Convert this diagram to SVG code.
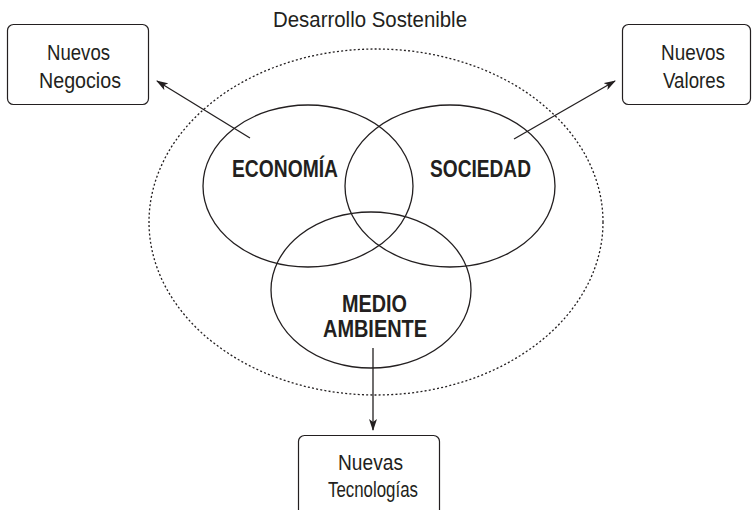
<svg xmlns="http://www.w3.org/2000/svg" width="754" height="510" viewBox="0 0 754 510">
<style>
.bg{fill:#ffffff}
.box{fill:#ffffff;stroke:#231f20;stroke-width:1.2}
.set{fill:none;stroke:#231f20;stroke-width:1.3}
.dot{fill:none;stroke:#231f20;stroke-width:1.3;stroke-dasharray:2 2.2}
.lbl{font-family:"Liberation Sans",Arial,sans-serif;font-size:22px;fill:#231f20;text-anchor:start}
.big{font-family:"Liberation Sans",Arial,sans-serif;font-size:23px;font-weight:bold;fill:#231f20;text-anchor:start}
.arr{stroke:#231f20;stroke-width:1.3;fill:none;marker-end:url(#ah)}
</style>
<defs>
<marker id="ah" viewBox="0 0 12 8" refX="11" refY="4" markerWidth="12" markerHeight="8" markerUnits="userSpaceOnUse" orient="auto">
<path d="M0,0 L12,4 L0,8 L3,4 Z" fill="#231f20"/>
</marker>
</defs>
<rect class="bg" x="0" y="0" width="754" height="510"/>
<text class="lbl" x="273" y="27" textLength="194" lengthAdjust="spacingAndGlyphs">Desarrollo Sostenible</text>
<g id="sustainable">
<ellipse class="dot" cx="376" cy="222" rx="227" ry="173"/>
</g>
<g id="economia">
<ellipse class="set" cx="308" cy="186" rx="105" ry="81"/>
<text class="big" x="232" y="177" textLength="106" lengthAdjust="spacingAndGlyphs">ECONOMÍA</text>
</g>
<g id="sociedad">
<ellipse class="set" cx="450" cy="186" rx="105" ry="81"/>
<text class="big" x="430" y="177" textLength="101" lengthAdjust="spacingAndGlyphs">SOCIEDAD</text>
</g>
<g id="medio">
<ellipse class="set" cx="371" cy="290" rx="100" ry="78"/>
<text class="big" x="342" y="312" textLength="65" lengthAdjust="spacingAndGlyphs">MEDIO</text>
<text class="big" x="323" y="337" textLength="104" lengthAdjust="spacingAndGlyphs">AMBIENTE</text>
</g>
<g id="negocios">
<rect class="box" x="7.5" y="24.5" width="141" height="80" rx="6"/>
<text class="lbl" x="47" y="60" textLength="63" lengthAdjust="spacingAndGlyphs">Nuevos</text>
<text class="lbl" x="39" y="88" textLength="82" lengthAdjust="spacingAndGlyphs">Negocios</text>
</g>
<g id="valores">
<rect class="box" x="622.5" y="24.5" width="128" height="80" rx="6"/>
<text class="lbl" x="661" y="60" textLength="64" lengthAdjust="spacingAndGlyphs">Nuevos</text>
<text class="lbl" x="663" y="88" textLength="62" lengthAdjust="spacingAndGlyphs">Valores</text>
</g>
<g id="tecnologias">
<rect class="box" x="298.5" y="435.5" width="141" height="85" rx="6"/>
<text class="lbl" x="338" y="470" textLength="65" lengthAdjust="spacingAndGlyphs">Nuevas</text>
<text class="lbl" x="328" y="497" textLength="90" lengthAdjust="spacingAndGlyphs">Tecnologías</text>
</g>
<g id="connectors">
<line class="arr" x1="250" y1="138" x2="157" y2="81"/>
<line class="arr" x1="514" y1="139" x2="615" y2="81"/>
<line class="arr" x1="373" y1="348" x2="373" y2="430"/>
</g>
</svg>
